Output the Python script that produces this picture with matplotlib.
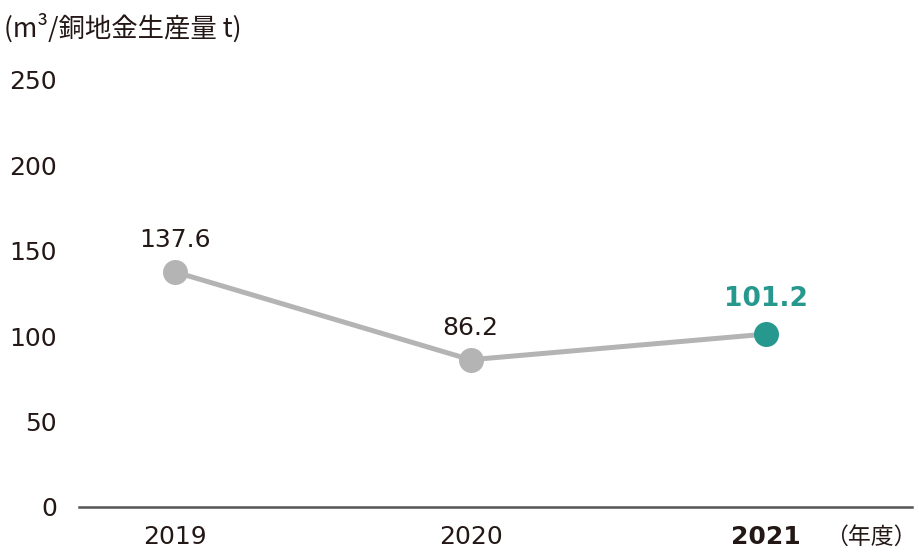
import matplotlib
matplotlib.use("Agg")
import matplotlib.pyplot as plt

plt.rcParams['font.family'] = ['DejaVu Sans', 'Noto Sans CJK JP']

years = ['2019', '2020', '2021']
values = [137.6, 86.2, 101.2]
yticks = [0, 50, 100, 150, 200, 250]

grey = '#b4b4b4'
teal = '#27988e'
txt = '#231815'

fig = plt.figure(figsize=(9.2, 5.55), dpi=100)
ax = fig.add_axes([0.0859, 0.0865, 0.9054, 0.7695])

x = list(range(len(years)))
ax.plot(x, values, color=grey, lw=3.6, zorder=2, solid_capstyle='round')
for i, v in enumerate(values):
    c = teal if i == len(values) - 1 else grey
    ax.plot(i, v, 'o', ms=18, color=c, mec='none', zorder=3)
    if i == len(values) - 1:
        ax.annotate(f'{v:.1f}', (i, v), xytext=(0, 16), textcoords='offset points',
                    ha='center', va='bottom', fontsize=19, fontweight='bold', color=teal)
    else:
        ax.annotate(f'{v:.1f}', (i, v), xytext=(0, 14), textcoords='offset points',
                    ha='center', va='bottom', fontsize=18, color=txt)

ax.set_xlim(-0.325, 2.494)
ax.set_ylim(0, 250)
ax.set_yticks(yticks)
ax.set_yticklabels([str(t) for t in yticks], fontsize=18, color=txt)
ax.set_xticks(x)
ax.set_xticklabels(years, fontsize=18, color=txt)
ax.get_xticklabels()[-1].set_fontweight('bold')
ax.tick_params(axis='both', length=0)
ax.tick_params(axis='y', pad=16)
ax.tick_params(axis='x', pad=13)
for s in ['left', 'right', 'top']:
    ax.spines[s].set_visible(False)
ax.spines['bottom'].set_color('#555555')
ax.spines['bottom'].set_linewidth(1.8)

fig.text(0.004, 0.95, '(m³/銅地金生産量 t)', fontsize=19, color=txt,
         family=['Noto Sans CJK JP', 'DejaVu Sans'], va='center', ha='left')
fig.text(0.947, 0.032, '（年度）', fontsize=16.5, color=txt,
         family=['Noto Sans CJK JP', 'DejaVu Sans'], va='center', ha='center')

fig.savefig('out.png', dpi=100)
